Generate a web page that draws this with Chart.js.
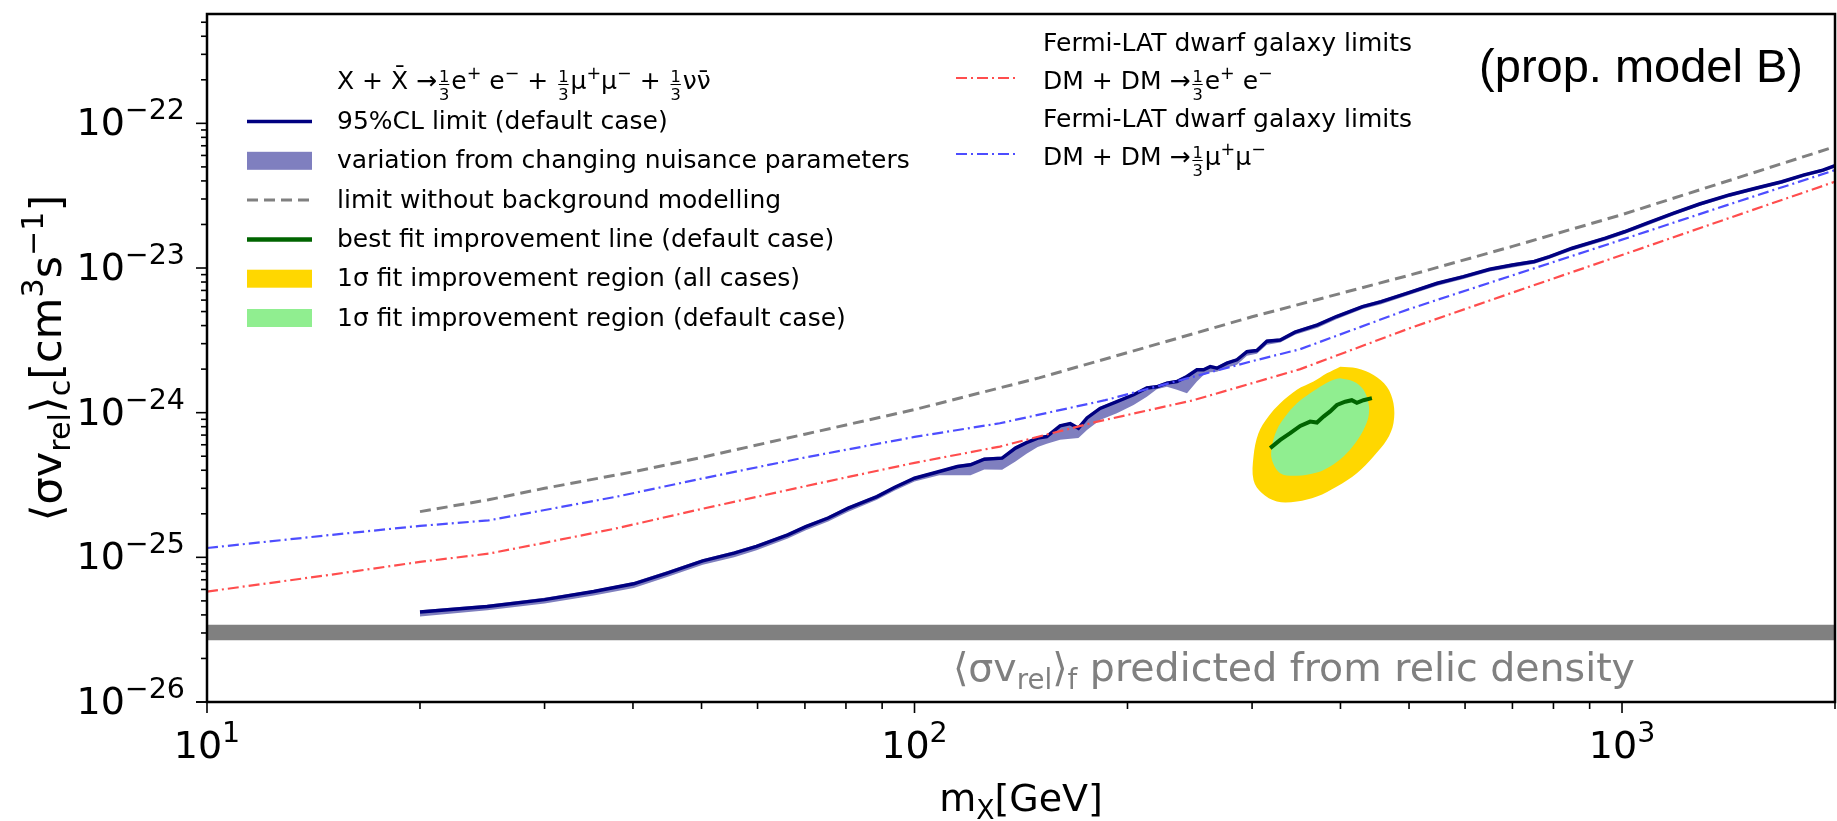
<!DOCTYPE html>
<html>
<head>
<meta charset="utf-8">
<script src="https://cdn.jsdelivr.net/npm/chart.js@4.4.0/dist/chart.umd.min.js"></script>
<style>
  html, body { margin: 0; padding: 0; background: #ffffff; }
  canvas { display: block; }
</style>
</head>
<body>
<canvas id="limitChart" width="1837" height="821"></canvas>
<script>
// ---- data ----
const xMajorTicks = [10, 100, 1000];
const xTickExp = ['1', '2', '3'];
const yMajorTicks = [1e-26, 1e-25, 1e-24, 1e-23, 1e-22];
const yTickExp = ['\u221226', '\u221225', '\u221224', '\u221223', '\u221222'];

const relicMass = [10, 2000];
const relicLow = [2.67e-26, 2.67e-26];
const relicHigh = [3.42e-26, 3.42e-26];

const limitMass = [20, 24.9, 30, 35.2, 40.1, 44.7, 50.2, 55.6, 59.8, 66.2, 70.2, 75.5, 80.6, 88.5, 93.8,
  100, 108.4, 115, 120, 125.5, 133, 138.9, 144, 149.3, 153.8, 160.6, 166, 170.5, 175.3, 182.9,
  193.2, 204, 213, 220, 227.4, 234.9, 242.7, 250.7, 256.2, 261.8, 267.6, 276.4, 285.6, 295, 304.7,
  314.8, 328.8, 345, 371.3, 394.7, 429.8, 456.6, 497.4, 548, 597, 650, 700, 752, 790, 850,
  948, 1008, 1085, 1181, 1287, 1418, 1544, 1682, 1809, 1923, 2000];
const limitValue = [4.19e-26, 4.57e-26, 5.1e-26, 5.8e-26, 6.56e-26, 7.78e-26, 9.46e-26, 1.07e-25, 1.19e-25, 1.43e-25,
  1.63e-25, 1.87e-25, 2.19e-25, 2.63e-25, 3.05e-25, 3.52e-25, 3.92e-25, 4.24e-25, 4.36e-25, 4.77e-25,
  4.85e-25, 5.69e-25, 6.2e-25, 6.67e-25, 6.84e-25, 8.1e-25, 8.4e-25, 7.81e-25, 9.2e-25, 1.07e-24,
  1.19e-24, 1.33e-24, 1.48e-24, 1.51e-24, 1.6e-24, 1.64e-24, 1.78e-24, 1.98e-24, 1.98e-24, 2.08e-24,
  2.03e-24, 2.2e-24, 2.32e-24, 2.64e-24, 2.69e-24, 3.12e-24, 3.18e-24, 3.6e-24, 4.04e-24, 4.62e-24,
  5.41e-24, 5.86e-24, 6.7e-24, 7.85e-24, 8.72e-24, 9.8e-24, 1.05e-23, 1.11e-23, 1.2e-23, 1.37e-23,
  1.61e-23, 1.78e-23, 2.04e-23, 2.39e-23, 2.77e-23, 3.2e-23, 3.56e-23, 3.95e-23, 4.4e-23, 4.75e-23, 5.1e-23];
const bandLower = [3.9e-26, 4.3e-26, 4.8e-26, 5.45e-26, 6.15e-26, 7.3e-26, 8.9e-26, 1.0e-25, 1.12e-25, 1.35e-25,
  1.54e-25, 1.77e-25, 2.07e-25, 2.5e-25, 2.9e-25, 3.35e-25, 3.7e-25, 3.7e-25, 3.7e-25, 4.05e-25,
  4.03e-25, 4.6e-25, 5.2e-25, 5.8e-25, 6.1e-25, 6.49e-25, 6.6e-25, 6.67e-25, 7.6e-25, 8.9e-25,
  9.9e-25, 1.13e-24, 1.29e-24, 1.45e-24, 1.51e-24, 1.44e-24, 1.36e-24, 1.64e-24, 1.82e-24, 1.9e-24,
  1.92e-24, 2.05e-24, 2.14e-24, 2.47e-24, 2.55e-24, 2.95e-24, 3.05e-24, 3.45e-24, 3.87e-24, 4.42e-24,
  5.2e-24, 5.62e-24, 6.45e-24, 7.55e-24, 8.4e-24, 9.45e-24, 1.01e-23, 1.07e-23, 1.16e-23, 1.32e-23,
  1.55e-23, 1.72e-23, 1.97e-23, 2.31e-23, 2.68e-23, 3.1e-23, 3.45e-23, 3.83e-23, 4.27e-23, 4.61e-23, 4.95e-23];
const bandUpper = [4.3e-26, 4.7e-26, 5.25e-26, 5.95e-26, 6.75e-26, 8.0e-26, 9.7e-26, 1.1e-25, 1.22e-25, 1.47e-25,
  1.67e-25, 1.92e-25, 2.25e-25, 2.7e-25, 3.13e-25, 3.6e-25, 4.0e-25, 4.35e-25, 4.48e-25, 4.9e-25,
  4.98e-25, 5.85e-25, 6.35e-25, 6.85e-25, 7.0e-25, 8.3e-25, 8.6e-25, 8.0e-25, 9.45e-25, 1.1e-24,
  1.22e-24, 1.36e-24, 1.52e-24, 1.55e-24, 1.64e-24, 1.68e-24, 1.83e-24, 2.03e-24, 2.03e-24, 2.13e-24,
  2.09e-24, 2.26e-24, 2.38e-24, 2.71e-24, 2.76e-24, 3.2e-24, 3.26e-24, 3.7e-24, 4.15e-24, 4.74e-24,
  5.55e-24, 6.0e-24, 6.87e-24, 8.05e-24, 8.95e-24, 1.0e-23, 1.08e-23, 1.14e-23, 1.23e-23, 1.4e-23,
  1.65e-23, 1.83e-23, 2.09e-23, 2.45e-23, 2.84e-23, 3.28e-23, 3.65e-23, 4.05e-23, 4.51e-23, 4.87e-23, 5.2e-23];

const noBgMass = [20, 25, 30, 40, 50, 70, 100, 150, 200, 300, 500, 700, 1000, 1500, 2000];
const noBgValue = [2.07e-25, 2.5e-25, 3.0e-25, 3.9e-25, 4.9e-25, 7.1e-25, 1.05e-24, 1.74e-24, 2.6e-24,
  4.6e-24, 8.9e-24, 1.41e-23, 2.34e-23, 4.4e-23, 6.9e-23];

const fermiEeMass = [10, 15, 20, 25, 30, 38, 50, 70, 100, 132, 180, 248, 351, 500, 700, 1000, 1400, 2000];
const fermiEeValue = [5.8e-26, 7.6e-26, 9.3e-26, 1.06e-25, 1.26e-25, 1.59e-25, 2.16e-25, 3.1e-25, 4.5e-25,
  5.83e-25, 8.6e-25, 1.22e-24, 2.0e-24, 3.82e-24, 6.76e-24, 1.23e-23, 2.17e-23, 3.95e-23];
const fermiMuMass = [10, 15, 20, 25, 38, 50, 70, 100, 132, 186, 298, 351, 500, 700, 1000, 1400, 2000];
const fermiMuValue = [1.16e-25, 1.43e-25, 1.65e-25, 1.8e-25, 2.63e-25, 3.5e-25, 4.9e-25, 6.8e-25, 8.45e-25,
  1.22e-24, 2.25e-24, 2.75e-24, 5.2e-24, 8.9e-24, 1.57e-23, 2.7e-23, 4.75e-23];

const bestFitMass = [318.2, 328.8, 339.6, 350.9, 362.4, 370.5, 378.5, 386.8, 395.4, 406.2, 415, 421.9, 431.1, 443.1];
const bestFitValue = [5.69e-25, 6.49e-25, 7.21e-25, 8.1e-25, 8.68e-25, 8.55e-25, 9.4e-25, 1.02e-24, 1.13e-24,
  1.19e-24, 1.22e-24, 1.17e-24, 1.22e-24, 1.26e-24];

const allCasesMass = [399.7, 421.9, 445.4, 465.2, 475.3, 475.3, 465.2, 445.4, 421.9, 395.4, 370.5, 347.1,
  325.2, 309.7, 301.4, 301.4, 306.3, 316.4, 328.8, 347.1, 366.4, 382.6, 399.7];
const allCasesValue = [2.08e-24, 2.03e-24, 1.82e-24, 1.51e-24, 1.16e-24, 8.46e-25, 6.49e-25, 4.98e-25, 3.82e-25,
  3.09e-25, 2.63e-25, 2.43e-25, 2.43e-25, 2.78e-25, 3.43e-25, 4.98e-25, 7.21e-25, 9.4e-25, 1.16e-24,
  1.44e-24, 1.64e-24, 1.87e-24, 2.08e-24];
const defaultCaseMass = [399.7, 417.4, 431.1, 438.2, 438.2, 431.1, 419.6, 404, 386.8, 370.5, 347.1, 328.8,
  320, 320, 325.2, 334.2, 347.1, 362.4, 378.5, 391.1, 399.7];
const defaultCaseValue = [1.73e-24, 1.64e-24, 1.44e-24, 1.16e-24, 9.4e-25, 7.6e-25, 6.15e-25, 4.98e-25, 4.25e-25,
  3.86e-25, 3.66e-25, 3.82e-25, 4.72e-25, 5.83e-25, 7.6e-25, 9.4e-25, 1.16e-24, 1.36e-24, 1.56e-24,
  1.69e-24, 1.73e-24];

// ---- colours ----
const NAVY = '#000080';
const BAND = 'rgba(0, 0, 128, 0.5)';
const GREY = '#808080';
const RED = '#ff4d4d';
const BLUE = '#4d4dff';
const GOLD = '#ffd700';
const LIGHTGREEN = '#90ee90';
const DARKGREEN = '#006400';
const FONT = '"DejaVu Sans", sans-serif';

const pts = (xs, ys) => xs.map((x, i) => ({ x: x, y: ys[i] }));

// ---- tiny mathtext-ish text drawer ----
function pieceSize(kind, size, supScale) {
  if (kind === 't') return size;
  if (kind === 'frac') return size * 0.65;
  return size * (supScale || 0.7);
}

function measureParts(ctx, parts, size, supScale) {
  let w = 0;
  parts.forEach(p => {
    ctx.font = pieceSize(p[0], size, supScale) + 'px ' + FONT;
    if (p[0] === 'frac') {
      w += Math.max(ctx.measureText(p[1]).width, ctx.measureText(p[2]).width) + size * 0.16;
    } else {
      w += ctx.measureText(p[1]).width;
    }
  });
  return w;
}

function drawMath(ctx, parts, x, y, size, align, supScale) {
  const w = measureParts(ctx, parts, size, supScale);
  let cx = align === 'center' ? x - w / 2 : align === 'right' ? x - w : x;
  ctx.textAlign = 'left';
  ctx.textBaseline = 'alphabetic';
  parts.forEach(p => {
    const s = pieceSize(p[0], size, supScale);
    ctx.font = s + 'px ' + FONT;
    if (p[0] === 'frac') {
      const w1 = ctx.measureText(p[1]).width;
      const w2 = ctx.measureText(p[2]).width;
      const fw = Math.max(w1, w2);
      const left = cx + size * 0.08;
      ctx.fillText(p[1], left + (fw - w1) / 2, y - size * 0.27);
      ctx.fillText(p[2], left + (fw - w2) / 2, y + size * 0.42);
      ctx.fillRect(left, y - size * 0.2, fw, Math.max(1, size * 0.04));
      cx += fw + size * 0.16;
    } else {
      const dy = p[0] === 'sup' ? -size * 0.42 : p[0] === 'sub' ? size * 0.2 : 0;
      ctx.fillText(p[1], cx, y + dy);
      cx += ctx.measureText(p[1]).width;
    }
  });
}

const yTitle = [['t', '\u27e8\u03c3v'], ['sub', 'rel'], ['t', '\u27e9'], ['sub', 'c'], ['t', '[cm'], ['sup', '3'],
  ['t', 's'], ['sup', '\u22121'], ['t', ']']];
const xTitle = [['t', 'm'], ['sub', 'X'], ['t', '[GeV]']];
const relicText = [['t', '\u27e8\u03c3v'], ['sub', 'rel'], ['t', '\u27e9'], ['sub', 'f'],
  ['t', ' predicted from relic density']];
const legendTitle = [['t', 'X + X\u0304 \u2192'], ['frac', '1', '3'], ['t', 'e'], ['sup', '+'], ['t', ' e'], ['sup', '\u2212'],
  ['t', ' + '], ['frac', '1', '3'], ['t', '\u03bc'], ['sup', '+'], ['t', '\u03bc'], ['sup', '\u2212'],
  ['t', ' + '], ['frac', '1', '3'], ['t', '\u03bd\u03bd\u0304']];
const legendRows = [
  { label: '95%CL limit (default case)', kind: 'line', color: NAVY, width: 3.5 },
  { label: 'variation from changing nuisance parameters', kind: 'patch', color: BAND },
  { label: 'limit without background modelling', kind: 'line', color: GREY, width: 3, dash: [11, 6] },
  { label: 'best fit improvement line (default case)', kind: 'line', color: DARKGREEN, width: 4.5 },
  { label: '1\u03c3 fit improvement region (all cases)', kind: 'patch', color: GOLD },
  { label: '1\u03c3 fit improvement region (default case)', kind: 'patch', color: LIGHTGREEN }
];
const fermiRows = [
  { top: 'Fermi-LAT dwarf galaxy limits', math: [['t', 'DM + DM \u2192'], ['frac', '1', '3'], ['t', 'e'], ['sup', '+'], ['t', ' e'], ['sup', '\u2212']], color: RED },
  { top: 'Fermi-LAT dwarf galaxy limits', math: [['t', 'DM + DM \u2192'], ['frac', '1', '3'], ['t', '\u03bc'], ['sup', '+'], ['t', '\u03bc'], ['sup', '\u2212']], color: BLUE }
];

function isNiceTick(v) {
  const e = Math.floor(Math.log10(v) + 1e-9);
  const m = v / Math.pow(10, e);
  return { ok: Math.abs(m - Math.round(m)) < 1e-6, major: Math.round(m) === 1 };
}

const decorPlugin = {
  id: 'decor',
  beforeDraw(chart) {
    const c = chart.ctx;
    c.save();
    c.fillStyle = '#ffffff';
    c.fillRect(0, 0, chart.width, chart.height);
    c.restore();
  },
  afterDatasetsDraw(chart) {
    const c = chart.ctx;
    const a = chart.chartArea;
    const xs = chart.scales.x;
    const ys = chart.scales.y;
    c.save();

    // relic text
    c.fillStyle = GREY;
    drawMath(c, relicText, 1635, 681, 39.5, 'right');

    // frame
    c.strokeStyle = '#000000';
    c.lineWidth = 2.5;
    c.strokeRect(a.left, a.top, a.right - a.left, a.bottom - a.top);

    // ticks
    c.lineWidth = 1.6;
    xs.ticks.forEach(t => {
      const k = isNiceTick(t.value);
      if (!k.ok) return;
      const px = xs.getPixelForValue(t.value);
      c.beginPath();
      c.moveTo(px, a.bottom);
      c.lineTo(px, a.bottom + (k.major ? 11 : 7));
      c.stroke();
    });
    ys.ticks.forEach(t => {
      const k = isNiceTick(t.value);
      if (!k.ok) return;
      const py = ys.getPixelForValue(t.value);
      c.beginPath();
      c.moveTo(a.left, py);
      c.lineTo(a.left - (k.major ? 11 : 6), py);
      c.stroke();
    });

    // tick labels
    c.fillStyle = '#000000';
    xMajorTicks.forEach((v, i) => {
      drawMath(c, [['t', '10'], ['sup', xTickExp[i]]], xs.getPixelForValue(v), 758, 38, 'center', 0.75);
    });
    yMajorTicks.forEach((v, i) => {
      drawMath(c, [['t', '10'], ['sup', yTickExp[i]]], 185, ys.getPixelForValue(v) + 12, 38, 'right', 0.75);
    });

    // axis titles
    drawMath(c, xTitle, (a.left + a.right) / 2, 811, 38, 'center');
    c.save();
    c.translate(61, (a.top + a.bottom) / 2);
    c.rotate(-Math.PI / 2);
    drawMath(c, yTitle, 0, 0, 43, 'center');
    c.restore();

    // legend (left block)
    const hx0 = 247, hx1 = 312, tx = 337;
    drawMath(c, legendTitle, tx, 89, 25, 'left');
    legendRows.forEach((r, i) => {
      const cy = 121.5 + i * 39.3;
      if (r.kind === 'patch') {
        c.fillStyle = r.color;
        c.fillRect(hx0, cy - 9, hx1 - hx0, 18);
      } else {
        c.strokeStyle = r.color;
        c.lineWidth = r.width;
        c.setLineDash(r.dash || []);
        c.beginPath();
        c.moveTo(hx0, cy);
        c.lineTo(hx1, cy);
        c.stroke();
        c.setLineDash([]);
      }
      c.fillStyle = '#000000';
      c.font = '25px ' + FONT;
      c.textAlign = 'left';
      c.textBaseline = 'middle';
      c.fillText(r.label, tx, cy + 1);
    });

    // legend (right block)
    fermiRows.forEach((r, i) => {
      const y0 = 44 + i * 76;
      c.fillStyle = '#000000';
      c.font = '25px ' + FONT;
      c.textAlign = 'left';
      c.textBaseline = 'middle';
      c.fillText(r.top, 1043, y0);
      drawMath(c, r.math, 1043, y0 + 45, 25, 'left');
      c.strokeStyle = r.color;
      c.lineWidth = 2.2;
      c.setLineDash([11, 4, 2, 4]);
      c.beginPath();
      c.moveTo(956, y0 + 34);
      c.lineTo(1015, y0 + 34);
      c.stroke();
      c.setLineDash([]);
    });

    // model tag
    c.fillStyle = '#000000';
    c.font = '47px "Liberation Sans", Arial, sans-serif';
    c.textAlign = 'right';
    c.textBaseline = 'alphabetic';
    c.fillText('(prop. model B)', 1803, 82);

    c.restore();
  }
};

const ctx = document.getElementById('limitChart').getContext('2d');
new Chart(ctx, {
  type: 'line',
  data: {
    datasets: [
      { data: pts(relicMass, relicHigh), borderWidth: 0, borderColor: GREY, backgroundColor: GREY, fill: false, order: 30 },
      { data: pts(relicMass, relicLow), borderWidth: 0, borderColor: GREY, backgroundColor: GREY, fill: 0, order: 29 },
      { data: pts(limitMass, bandUpper), borderWidth: 0, borderColor: BAND, backgroundColor: BAND, fill: false, order: 28 },
      { data: pts(limitMass, bandLower), borderWidth: 0, borderColor: BAND, backgroundColor: BAND, fill: 2, order: 27 },
      { data: pts(limitMass, limitValue), borderWidth: 3.5, borderColor: NAVY, fill: false, order: 26 },
      { data: pts(noBgMass, noBgValue), borderWidth: 3, borderColor: GREY, borderDash: [11, 6], fill: false, order: 25 },
      { data: pts(fermiEeMass, fermiEeValue), borderWidth: 2.2, borderColor: RED, borderDash: [11, 4, 2, 4], fill: false, order: 24 },
      { data: pts(fermiMuMass, fermiMuValue), borderWidth: 2.2, borderColor: BLUE, borderDash: [11, 4, 2, 4], fill: false, order: 23 },
      { data: pts(allCasesMass, allCasesValue), borderWidth: 0, borderColor: GOLD, backgroundColor: GOLD, fill: 'shape', tension: 0.35, order: 22 },
      { data: pts(defaultCaseMass, defaultCaseValue), borderWidth: 0, borderColor: LIGHTGREEN, backgroundColor: LIGHTGREEN, fill: 'shape', tension: 0.35, order: 21 },
      { data: pts(bestFitMass, bestFitValue), borderWidth: 4, borderColor: DARKGREEN, fill: false, order: 20 }
    ]
  },
  options: {
    responsive: false,
    animation: false,
    devicePixelRatio: 1,
    layout: { padding: { top: 14, right: 2, left: 0, bottom: 0 } },
    elements: { point: { radius: 0, hoverRadius: 0 }, line: { tension: 0, borderCapStyle: 'butt' } },
    plugins: {
      legend: { display: false },
      tooltip: { enabled: false },
      filler: { propagate: false }
    },
    scales: {
      x: {
        type: 'logarithmic', min: 10, max: 2000,
        grid: { display: false }, border: { display: false },
        ticks: { display: false },
        afterFit: s => { s.height = 119; }
      },
      y: {
        type: 'logarithmic', min: 1e-26, max: 5.7e-22,
        grid: { display: false }, border: { display: false },
        ticks: { display: false },
        afterFit: s => { s.width = 207; }
      }
    }
  },
  plugins: [decorPlugin]
});
</script>
</body>
</html>
